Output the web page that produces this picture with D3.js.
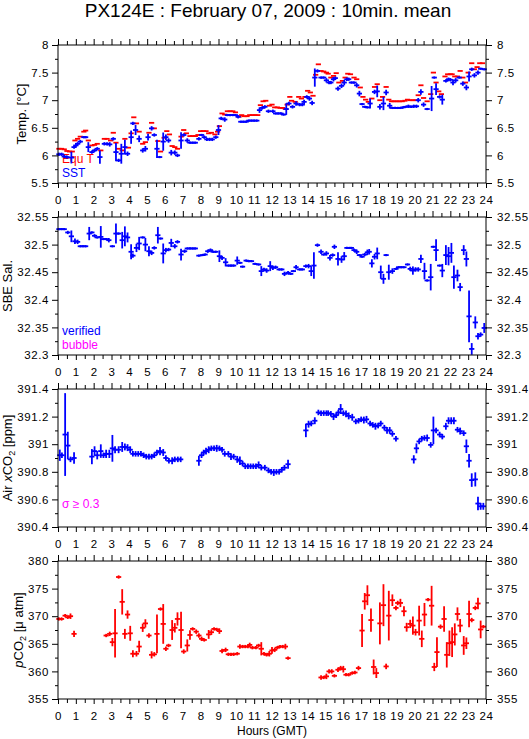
<!DOCTYPE html>
<html><head><meta charset="utf-8">
<script src="https://cdn.jsdelivr.net/npm/d3@7"></script>
<style>
body{margin:0;background:#fff}
svg{display:block}
text{font-family:"Liberation Sans",Arial,Helvetica,sans-serif}
</style>
</head><body>
<svg id="chart" width="529" height="739"></svg>
<script>
// ---------------- DATA (hour, value, half error) ----------------
const hourTicks = d3.range(0, 25, 1);
const halfHourTicks = d3.range(0.5, 24, 1);

const tempTicks = [5.5, 6, 6.5, 7, 7.5, 8];
const salTicks = [32.3, 32.35, 32.4, 32.45, 32.5, 32.55];
const airTicks = [390.4, 390.6, 390.8, 391, 391.2, 391.4];
const pco2Ticks = [355, 360, 365, 370, 375, 380];

const sst = [[0.05,6.02,0.03],[0.2,6.02,0.03],[0.35,5.98,0.03],[0.5,5.97,0.03],[0.75,5.96,0.106],[0.9,6.15,0.03],[1.0,6.18,0.03],[1.1,6.21,0.03],[1.25,6.25,0.03],[1.45,6.33,0.02],[1.55,6.33,0.02],[1.7,6.15,0.09],[1.9,6.06,0.03],[2.05,6.09,0.03],[2.2,6.12,0.03],[2.35,5.97,0.12],[2.6,6.21,0.03],[2.75,6.21,0.03],[2.9,6.2,0.04],[3.1,6.3,0.03],[3.25,6.06,0.165],[3.4,5.91,0.03],[3.55,6.03,0.18],[3.75,6.15,0.135],[3.9,6.03,0.04],[4.1,6.33,0.12],[4.2,6.58,0.03],[4.35,6.46,0.09],[4.55,6.3,0.06],[4.75,6.09,0.04],[4.9,6.12,0.05],[5.05,6.33,0.06],[5.25,6.49,0.04],[5.4,6.37,0.03],[5.55,6.12,0.165],[5.7,5.97,0.02],[5.9,6.25,0.165],[6.05,6.33,0.05],[6.2,6.27,0.04],[6.35,6.05,0.05],[6.55,6.05,0.04],[6.7,6.0,0.03],[6.9,6.27,0.15],[7.05,6.37,0.03],[7.25,6.27,0.04],[7.4,6.23,0.02],[7.55,6.23,0.02],[7.7,6.23,0.02],[7.9,6.3,0.03],[8.05,6.37,0.02],[8.2,6.33,0.03],[8.35,6.29,0.03],[8.5,6.29,0.03],[8.65,6.29,0.03],[8.85,6.33,0.03],[9.0,6.46,0.09],[9.15,6.67,0.03],[9.35,6.65,0.04],[9.5,6.73,0.02],[9.65,6.73,0.02],[9.8,6.73,0.02],[9.95,6.73,0.02],[10.1,6.7,0.03],[10.25,6.61,0.02],[10.4,6.61,0.02],[10.55,6.61,0.02],[10.7,6.63,0.02],[10.85,6.63,0.02],[11.0,6.63,0.02],[11.15,6.63,0.02],[11.3,6.82,0.05],[11.45,6.86,0.03],[11.6,6.88,0.03],[11.8,6.8,0.03],[12.05,6.8,0.03],[12.2,6.76,0.02],[12.35,6.76,0.02],[12.5,6.76,0.02],[12.65,6.74,0.02],[12.8,6.84,0.106],[12.95,6.94,0.03],[13.15,6.88,0.03],[13.35,6.94,0.04],[13.55,6.92,0.03],[13.7,6.92,0.03],[13.8,6.97,0.04],[13.95,7.06,0.03],[14.1,7.03,0.04],[14.25,6.95,0.04],[14.4,7.41,0.165],[14.55,7.53,0.03],[14.75,7.41,0.02],[14.9,7.41,0.02],[15.05,7.36,0.04],[15.2,7.32,0.03],[15.3,7.32,0.03],[15.45,7.38,0.04],[15.55,7.4,0.03],[15.7,7.21,0.04],[15.9,7.26,0.04],[16.05,7.32,0.05],[16.2,7.38,0.03],[16.3,7.38,0.03],[16.45,7.32,0.02],[16.6,7.32,0.02],[16.75,7.27,0.04],[16.9,7.12,0.05],[17.05,6.93,0.02],[17.2,6.88,0.02],[17.35,6.87,0.02],[17.5,6.94,0.09],[17.75,7.15,0.04],[17.9,7.16,0.106],[18.05,6.88,0.05],[18.25,6.94,0.12],[18.4,7.14,0.05],[18.6,6.9,0.05],[18.75,6.86,0.02],[18.9,6.86,0.02],[19.05,6.86,0.02],[19.2,6.86,0.02],[19.35,6.87,0.02],[19.5,6.88,0.02],[19.65,6.89,0.03],[19.8,6.88,0.02],[19.95,6.89,0.03],[20.1,6.89,0.03],[20.2,7.0,0.04],[20.35,7.15,0.05],[20.5,6.92,0.04],[20.7,6.84,0.02],[20.95,7.03,0.227],[21.1,7.41,0.02],[21.2,7.2,0.106],[21.4,7.06,0.03],[21.55,7.01,0.09],[21.75,7.35,0.03],[21.9,7.38,0.03],[22.0,7.37,0.03],[22.15,7.32,0.05],[22.3,7.36,0.04],[22.5,7.41,0.02],[22.7,7.3,0.04],[22.9,7.23,0.05],[23.05,7.43,0.09],[23.2,7.56,0.03],[23.35,7.45,0.04],[23.55,7.5,0.04],[23.7,7.57,0.02],[23.9,7.56,0.02]];

const equT = [[0.05,6.12],[0.2,6.12],[0.35,6.11],[0.5,6.08],[0.65,6.07],[0.8,6.07],[0.95,6.27],[1.1,6.3],[1.25,6.34],[1.45,6.43],[1.55,6.45],[1.7,6.27],[1.9,6.18],[2.05,6.19],[2.2,6.21],[2.4,6.09],[2.6,6.3],[2.75,6.3],[2.95,6.27],[3.1,6.41],[3.25,6.23],[3.4,6.12],[3.6,6.09],[3.75,6.3],[3.95,6.14],[4.1,6.4],[4.25,6.69],[4.4,6.58],[4.55,6.43],[4.75,6.21],[4.9,6.24],[5.1,6.41],[5.25,6.59],[5.4,6.49],[5.6,6.26],[5.75,6.07],[5.95,6.32],[6.1,6.44],[6.25,6.38],[6.4,6.17],[6.55,6.15],[6.7,6.12],[6.9,6.34],[7.05,6.46],[7.2,6.4],[7.4,6.35],[7.55,6.35],[7.7,6.35],[7.85,6.37],[8.0,6.44],[8.15,6.44],[8.3,6.44],[8.45,6.4],[8.6,6.41],[8.8,6.38],[8.95,6.43],[9.05,6.53],[9.2,6.76],[9.35,6.74],[9.5,6.8],[9.65,6.8],[9.8,6.8],[9.95,6.78],[10.15,6.7],[10.3,6.73],[10.45,6.71],[10.6,6.71],[10.75,6.73],[10.9,6.73],[11.05,6.73],[11.2,6.73],[11.35,6.91],[11.5,6.98],[11.65,6.99],[11.85,6.9],[12.0,6.92],[12.15,6.87],[12.3,6.87],[12.45,6.86],[12.6,6.86],[12.75,6.84],[12.85,6.92],[13.0,7.06],[13.1,6.99],[13.3,6.97],[13.5,7.06],[13.65,7.03],[13.85,7.06],[14.0,7.17],[14.15,7.14],[14.3,7.08],[14.45,7.46],[14.6,7.65],[14.75,7.53],[14.9,7.52],[15.05,7.5],[15.15,7.48],[15.3,7.41],[15.45,7.44],[15.6,7.49],[15.75,7.32],[15.95,7.35],[16.1,7.41],[16.25,7.48],[16.4,7.47],[16.6,7.41],[16.75,7.38],[16.95,7.23],[17.1,7.06],[17.25,7.01],[17.4,6.97],[17.6,7.03],[17.75,7.24],[17.9,7.29],[18.05,7.0],[18.2,7.06],[18.4,7.24],[18.55,7.01],[18.7,6.98],[18.85,6.98],[19.0,6.98],[19.15,6.98],[19.3,6.98],[19.45,6.99],[19.6,7.01],[19.75,7.0],[19.9,7.0],[20.05,7.0],[20.2,7.09],[20.35,7.27],[20.5,7.04],[20.7,6.98],[20.9,7.11],[21.05,7.5],[21.2,7.32],[21.35,7.16],[21.5,7.11],[21.7,7.43],[21.85,7.47],[22.0,7.47],[22.1,7.47],[22.25,7.43],[22.4,7.43],[22.55,7.53],[22.7,7.41],[22.85,7.32],[23.0,7.5],[23.2,7.67],[23.35,7.56],[23.5,7.6],[23.65,7.67],[23.8,7.67]];

const salinity = [[0.05,32.528],[0.2,32.528],[0.35,32.528],[0.55,32.522,0.003],[0.75,32.515,0.0106],[0.95,32.506,0.005],[1.1,32.505,0.004],[1.25,32.497],[1.4,32.497],[1.55,32.497],[1.75,32.52,0.012],[1.9,32.522],[2.05,32.516,0.003],[2.2,32.513],[2.4,32.514,0.0196],[2.55,32.51],[2.7,32.51],[2.85,32.508,0.004],[3.05,32.497],[3.25,32.52,0.018],[3.4,32.52],[3.6,32.508,0.015],[3.75,32.515,0.018],[3.9,32.513,0.009],[4.1,32.487,0.0136],[4.2,32.48,0.004],[4.4,32.494,0.0075],[4.55,32.502,0.012],[4.75,32.513],[4.9,32.5,0.012],[5.1,32.488,0.009],[5.25,32.485,0.004],[5.4,32.494,0.003],[5.6,32.517,0.015],[5.75,32.511],[5.9,32.484,0.018],[6.05,32.49,0.004],[6.2,32.491,0.003],[6.35,32.503,0.0075],[6.55,32.497,0.004],[6.7,32.505,0.003],[6.9,32.482,0.0106],[7.1,32.488,0.003],[7.25,32.493],[7.4,32.493],[7.55,32.493],[7.7,32.493],[7.9,32.48],[8.1,32.481],[8.25,32.482],[8.4,32.488,0.003],[8.55,32.49,0.003],[8.7,32.487],[8.85,32.487],[9.05,32.479,0.0106],[9.2,32.476,0.004],[9.4,32.468,0.0075],[9.55,32.462],[9.7,32.462],[9.85,32.462],[10.05,32.471,0.0075],[10.2,32.467],[10.35,32.46],[10.55,32.471],[10.7,32.47],[10.85,32.47],[11.05,32.465],[11.25,32.464],[11.4,32.452,0.009],[11.55,32.455,0.003],[11.7,32.453,0.004],[11.9,32.461,0.009],[12.05,32.458,0.004],[12.2,32.459,0.003],[12.4,32.455],[12.55,32.455],[12.7,32.447,0.004],[12.9,32.449,0.003],[13.05,32.447],[13.2,32.452],[13.35,32.459,0.004],[13.55,32.455],[13.7,32.455],[13.9,32.461,0.003],[14.05,32.461,0.004],[14.2,32.452,0.009],[14.35,32.462,0.024],[14.55,32.499,0.003],[14.75,32.487,0.004],[14.9,32.482],[15.05,32.484,0.004],[15.25,32.476,0.005],[15.4,32.481,0.003],[15.5,32.496,0.004],[15.7,32.474,0.012],[15.9,32.473,0.006],[16.05,32.479,0.0075],[16.2,32.494],[16.35,32.494],[16.45,32.494],[16.6,32.49,0.003],[16.75,32.487,0.004],[16.9,32.481],[17.05,32.478],[17.2,32.482,0.003],[17.35,32.486,0.005],[17.45,32.487,0.005],[17.6,32.466,0.0075],[17.75,32.478,0.005],[17.9,32.484,0.0106],[18.1,32.45,0.012],[18.25,32.438,0.009],[18.4,32.481],[18.55,32.45,0.0136],[18.75,32.452,0.005],[18.95,32.456],[19.1,32.459],[19.25,32.459],[19.4,32.459],[19.6,32.464],[19.75,32.456,0.004],[19.9,32.453,0.0075],[20.05,32.455,0.004],[20.2,32.455,0.004],[20.35,32.474,0.0075],[20.55,32.452,0.015],[20.7,32.435],[20.9,32.441,0.024],[21.05,32.496],[21.2,32.49,0.0196],[21.4,32.462],[21.55,32.453,0.012],[21.75,32.481,0.018],[21.9,32.479,0.0166],[22.06,32.485,0.018],[22.2,32.441,0.021],[22.4,32.444,0.0106],[22.55,32.423,0.0075],[22.75,32.49,0.009],[22.9,32.474,0.0136],[23.05,32.37,0.047],[23.2,32.311,0.0106],[23.4,32.359,0.011],[23.55,32.334,0.006],[23.7,32.337,0.004],[23.9,32.349,0.009]];

const airXco2 = [[0.1,390.92,0.041],[0.22,390.92,0.02],[0.4,391.07,0.30],[0.55,390.99,0.10],[0.7,390.89,0.02],[0.9,390.9,0.042],[1.9,390.91,0.055],[2.05,390.95,0.035],[2.2,390.92,0.03],[2.4,390.95,0.049],[2.55,390.92,0.02],[2.7,390.93,0.03],[2.88,390.93,0.03],[3.05,390.97,0.097],[3.2,390.96,0.025],[3.4,390.96,0.025],[3.6,390.98,0.036],[3.75,390.98,0.025],[3.9,390.975,0.025],[4.05,390.96,0.025],[4.2,390.93,0.02],[4.35,390.93,0.02],[4.5,390.93,0.02],[4.65,390.93,0.02],[4.8,390.92,0.02],[4.95,390.91,0.02],[5.1,390.91,0.02],[5.25,390.91,0.02],[5.4,390.92,0.02],[5.55,390.94,0.02],[5.72,390.95,0.03],[5.9,390.94,0.025],[6.05,390.9,0.02],[6.22,390.88,0.02],[6.4,390.88,0.025],[6.55,390.89,0.02],[6.72,390.89,0.02],[6.88,390.89,0.02],[7.9,390.88,0.036],[8.05,390.92,0.02],[8.17,390.94,0.02],[8.3,390.95,0.025],[8.45,390.96,0.025],[8.6,390.97,0.02],[8.75,390.97,0.02],[8.9,390.97,0.025],[9.05,390.97,0.02],[9.2,390.96,0.02],[9.35,390.93,0.02],[9.55,390.93,0.02],[9.7,390.91,0.025],[9.85,390.91,0.02],[10.05,390.89,0.025],[10.2,390.88,0.03],[10.35,390.86,0.02],[10.5,390.84,0.02],[10.65,390.84,0.02],[10.8,390.84,0.02],[10.95,390.84,0.02],[11.1,390.84,0.02],[11.25,390.85,0.025],[11.4,390.83,0.02],[11.6,390.83,0.02],[11.8,390.81,0.02],[11.95,390.8,0.02],[12.1,390.795,0.025],[12.25,390.8,0.02],[12.4,390.8,0.02],[12.55,390.815,0.02],[12.7,390.83,0.02],[12.9,390.855,0.033],[13.9,391.1,0.049],[14.05,391.145,0.025],[14.2,391.15,0.02],[14.4,391.17,0.025],[14.6,391.23,0.02],[14.75,391.225,0.02],[14.9,391.225,0.02],[15.05,391.225,0.02],[15.15,391.225,0.02],[15.3,391.22,0.02],[15.45,391.2,0.025],[15.6,391.21,0.02],[15.72,391.23,0.02],[15.85,391.255,0.036],[16.0,391.225,0.02],[16.15,391.22,0.025],[16.3,391.205,0.025],[16.5,391.195,0.025],[16.7,391.165,0.02],[16.85,391.17,0.02],[17.0,391.18,0.02],[17.15,391.175,0.025],[17.3,391.18,0.025],[17.5,391.15,0.02],[17.65,391.14,0.02],[17.8,391.13,0.025],[17.95,391.135,0.02],[18.1,391.15,0.02],[18.3,391.12,0.02],[18.45,391.1,0.025],[18.6,391.1,0.025],[18.75,391.075,0.02],[18.95,391.04,0.02],[19.95,390.89,0.03],[20.1,390.97,0.036],[20.25,391.02,0.02],[20.4,391.04,0.02],[20.55,391.045,0.02],[20.7,391.045,0.025],[20.9,390.995,0.02],[21.05,391.1,0.1],[21.2,391.1,0.02],[21.4,391.07,0.02],[21.55,391.055,0.02],[21.75,391.13,0.025],[21.9,391.17,0.025],[22.05,391.17,0.025],[22.2,391.17,0.025],[22.4,391.105,0.02],[22.55,391.095,0.025],[22.75,391.08,0.02],[22.9,390.985,0.049],[23.05,390.88,0.049],[23.2,390.74,0.049],[23.4,390.745,0.051],[23.55,390.57,0.049],[23.7,390.55,0.025],[23.85,390.55,0.025]];

const pco2 = [[0.05,369.5],[0.2,369.5],[0.4,370.1],[0.55,369.8],[0.7,370.0,0.5],[0.9,366.8,0.55],[2.7,366.5],[2.9,366.8,0.4],[3.05,365.3,0.75],[3.2,366.9,4.4],[3.4,377.1],[3.6,372.6,2.3],[3.75,366.8,0.9],[3.9,370.3,0.75],[4.05,366.9,1.35],[4.2,363.2,0.65],[4.4,363.2,0.5],[4.55,364.5,1.05],[4.75,367.9,0.75],[4.9,368.7,0.75],[5.1,366.5,0.4],[5.25,363.0,0.65],[5.4,363.1,0.4],[5.55,366.8,3.5],[5.75,371.3],[5.9,368.6,3.6],[6.05,364.1,0.4],[6.2,364.7],[6.4,367.5,1.8],[6.55,367.9,0.85],[6.7,369.5,1.2],[6.9,367.5,3.3],[7.05,363.6,0.4],[7.25,364.7,1.1],[7.4,366.6,0.85],[7.55,367.7],[7.75,367.2,0.4],[7.9,366.5,0.4],[8.05,365.9,0.4],[8.2,365.7],[8.45,366.7,0.8],[8.6,367.1,0.5],[8.75,367.7],[8.9,367.6],[9.05,367.3,0.5],[9.2,363.7,0.4],[9.4,363.9,0.4],[9.55,363.1],[9.7,363.1],[9.85,363.1],[10.05,363.2],[10.2,364.5,0.4],[10.35,364.5],[10.5,364.5],[10.65,364.5],[10.75,364.8,0.4],[10.9,364.3],[11.1,364.3],[11.25,364.7],[11.4,364.1,1.2],[11.55,363.2],[11.7,363.0],[11.85,363.2,0.5],[12.0,363.8,0.6],[12.15,363.9,0.4],[12.3,364.3],[12.45,364.5],[12.6,364.5],[12.75,364.5,0.5],[12.9,362.4],[14.75,358.9,0.4],[14.9,358.9],[15.05,359.1,0.5],[15.2,360.0,0.4],[15.35,360.0,0.4],[15.5,359.2],[15.7,360.3,0.4],[15.85,360.6,0.4],[16.0,360.4,0.6],[16.15,359.4],[16.3,359.4],[16.5,359.7],[16.65,359.8],[16.85,360.6,0.4],[17.05,367.4,3.0],[17.2,372.7,1.5],[17.35,373.8,1.8],[17.55,369.3,2.1],[17.7,360.8,1.35],[17.85,359.7,0.9],[18.05,368.7,3.8],[18.25,372.0,3.8],[18.4,360.9,0.5],[18.55,370.1,4.5],[18.75,372.9,1.05],[18.95,371.5,0.4],[19.05,372.4,0.4],[19.2,372.4,0.75],[19.4,370.9,0.9],[19.55,368.0,0.8],[19.75,368.6,0.75],[19.9,368.3,1.65],[20.05,367.1,0.6],[20.25,369.2,2.7],[20.4,365.9,1.5],[20.55,370.3,2.1],[20.75,373.0],[20.95,371.9,3.6],[21.1,360.8,0.75],[21.25,363.5,2.7],[21.45,368.1,0.4],[21.65,369.5,2.3],[21.8,363.0,2.3],[21.95,365.1,2.3],[22.1,365.3,2.7],[22.25,366.7,2.0],[22.4,370.4,1.2],[22.55,368.3,1.2],[22.75,364.7,1.7],[22.9,365.1,1.05],[23.05,370.4,2.4],[23.2,369.3,0.4],[23.4,371.5,0.4],[23.55,372.3,1.05],[23.7,367.6,1.6],[23.85,368.1]];

// ---------------- LAYOUT ----------------
const svg = d3.select("#chart");
const L = 58, R = 486, PH = 138;
const x = d3.scaleLinear().domain([0, 24]).range([L, R]);
const fmt = v => String(+v.toFixed(3));

const panels = [
  {top:45, domain:[5.5,8], ticks:tempTicks, minorStep:0.25,
   label:[{t:"Temp. [°C]"}],
   series:[{data:equT, color:"#ff0000", defErr:0}, {data:sst, color:"#0000ff", defErr:0.02}],
   legend:[{t:"Equ T", c:"#ff0000", dy:118}, {t:"SST", c:"#0000ff", dy:132}]},
  {top:217, domain:[32.3,32.55], ticks:salTicks, minorStep:0.025,
   label:[{t:"SBE Sal."}],
   series:[{data:salinity, color:"#0000ff", defErr:0.002}],
   legend:[{t:"verified", c:"#0000ff", dy:118}, {t:"bubble", c:"#ff00ff", dy:132}]},
  {top:389, domain:[390.4,391.4], ticks:airTicks, minorStep:0.1,
   label:[{t:"Air "},{t:"x",it:true},{t:"CO"},{t:"2",sub:true},{t:" [ppm]",up:true}],
   series:[{data:airXco2, color:"#0000ff", defErr:0.02}],
   legend:[{t:"σ ≥ 0.3", c:"#ff00ff", dy:119}]},
  {top:561, domain:[355,380], ticks:pco2Ticks, minorStep:2.5,
   label:[{t:"p",it:true},{t:"CO"},{t:"2",sub:true},{t:" [μ atm]",up:true}],
   series:[{data:pco2, color:"#ff0000", defErr:0.3}],
   legend:[]}
];

// title
svg.append("text").attr("x", 268).attr("y", 16.5).attr("text-anchor","middle")
  .style("font-size","19px").text("PX124E : February 07, 2009 : 10min. mean");

const HW = 2.6; // half width of cross bar in px

panels.forEach(p => {
  const y = d3.scaleLinear().domain(p.domain).range([p.top + PH, p.top]);
  const g = svg.append("g");
  const minors = d3.range(p.domain[0], p.domain[1] + 1e-9, p.minorStep)
      .filter(v => !p.ticks.some(t => Math.abs(t - v) < 1e-9));

  // legends (below data)
  p.legend.forEach(l => {
    g.append("text").attr("x", 62).attr("y", p.top + l.dy)
      .style("font-size","12px").attr("fill", l.c).text(l.t);
  });

  // data crosses
  p.series.forEach(s => {
    const sg = g.append("g").attr("stroke", s.color).attr("stroke-width", 1.8).attr("fill","none");
    s.data.forEach(d => {
      const t = d[0], v = d[1], e = (d[2] !== undefined ? d[2] : s.defErr);
      const cx = x(t), cy = y(v);
      sg.append("line").attr("x1", cx - HW).attr("x2", cx + HW).attr("y1", cy).attr("y2", cy);
      if (e > 0) {
        sg.append("line").attr("x1", cx).attr("x2", cx).attr("y1", y(v - e)).attr("y2", y(v + e));
      }
    });
  });

  // frame
  g.append("rect").attr("x", L).attr("y", p.top).attr("width", R - L).attr("height", PH)
    .attr("fill","none").attr("stroke","#000").attr("stroke-width",1);

  const styleAxis = a => {
    a.select(".domain").remove();
    a.selectAll("line").attr("stroke","#000");
    a.selectAll("text").style("font-size","11.5px").style("letter-spacing","0.6px").attr("fill","#000");
  };

  // y axes
  const yl = g.append("g").attr("transform",`translate(${L},0)`)
    .call(d3.axisLeft(y).tickValues(p.ticks).tickSize(6).tickPadding(3).tickFormat(fmt)).call(styleAxis);
  g.append("g").attr("transform",`translate(${L},0)`)
    .call(d3.axisLeft(y).tickValues(minors).tickSize(3).tickFormat("")).call(styleAxis);
  g.append("g").attr("transform",`translate(${R},0)`)
    .call(d3.axisRight(y).tickValues(p.ticks).tickSize(6).tickPadding(5).tickFormat(fmt)).call(styleAxis);
  g.append("g").attr("transform",`translate(${R},0)`)
    .call(d3.axisRight(y).tickValues(minors).tickSize(3).tickFormat("")).call(styleAxis);

  // x axes
  g.append("g").attr("transform",`translate(0,${p.top + PH})`)
    .call(d3.axisBottom(x).tickValues(hourTicks).tickSize(5).tickPadding(8).tickFormat(d3.format("d"))).call(styleAxis);
  g.append("g").attr("transform",`translate(0,${p.top + PH})`)
    .call(d3.axisBottom(x).tickValues(halfHourTicks).tickSize(4).tickFormat("")).call(styleAxis);
  g.append("g").attr("transform",`translate(0,${p.top})`)
    .call(d3.axisTop(x).tickValues(hourTicks).tickSize(6).tickFormat("")).call(styleAxis);
  g.append("g").attr("transform",`translate(0,${p.top})`)
    .call(d3.axisTop(x).tickValues(halfHourTicks).tickSize(4).tickFormat("")).call(styleAxis);

  // y label: baseline just left of the tick labels (bbox is in the axis group's local coords)
  const bb = yl.node().getBBox();
  const lt = g.append("text")
    .attr("transform",`translate(${L + bb.x - 5},${p.top + PH/2}) rotate(-90)`)
    .attr("text-anchor","middle").style("font-size","13px");
  p.label.forEach(part => {
    const ts = lt.append("tspan").text(part.t);
    if (part.it) ts.style("font-style","italic");
    if (part.sub) ts.style("font-size","9px").attr("dy", 3);
    if (part.up) ts.attr("dy", -3);
  });
});

// x axis title
svg.append("text").attr("x", 272).attr("y", 735).attr("text-anchor","middle")
  .style("font-size","12px").text("Hours (GMT)");
</script>
</body></html>
